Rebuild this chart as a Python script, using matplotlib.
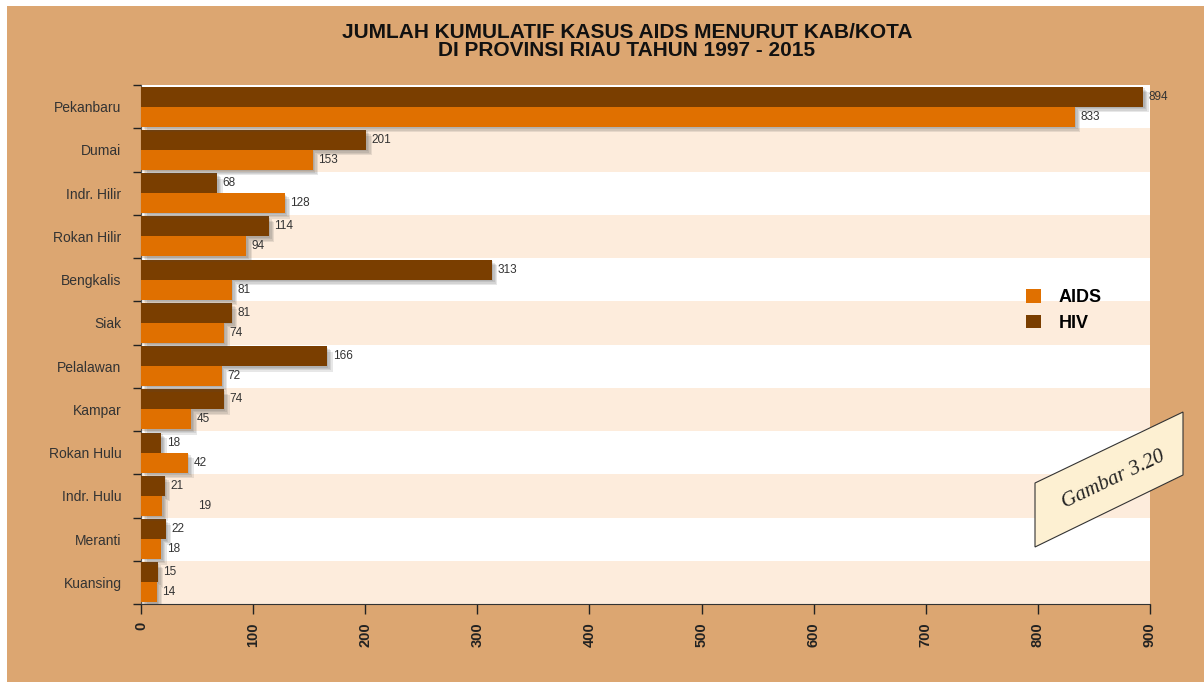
import matplotlib
matplotlib.use("Agg")
import matplotlib.pyplot as plt
import matplotlib.patheffects as pe
from matplotlib.patches import Patch, Polygon, Rectangle
import numpy as np

plt.rcParams['font.family'] = ['Liberation Sans', 'DejaVu Sans']

kabkota = ["Pekanbaru", "Dumai", "Indr. Hilir", "Rokan Hilir", "Bengkalis", "Siak",
           "Pelalawan", "Kampar", "Rokan Hulu", "Indr. Hulu", "Meranti", "Kuansing"]
hiv = [894, 201, 68, 114, 313, 81, 166, 74, 18, 21, 22, 15]
aids = [833, 153, 128, 94, 81, 74, 72, 45, 42, 19, 18, 14]
x_ticks = [0, 100, 200, 300, 400, 500, 600, 700, 800, 900]

TAN = "#DCA671"
PEACH = "#FDECDC"
ORANGE = "#E07000"
BROWN = "#7A3E00"
TEXT = "#333333"

W, H = 1204, 682
fig = plt.figure(figsize=(W / 100, H / 100), dpi=100, facecolor="white")
# tan frame with thin white border top/left
fig.patches.append(Rectangle((7 / W, 0), 1, 1 - 6 / H, transform=fig.transFigure,
                             facecolor=TAN, edgecolor="none", zorder=-10))

ax = fig.add_axes([141 / W, 1 - 604 / H, (1150 - 141) / W, (604 - 85) / H])
ax.set_facecolor("white")

n = len(kabkota)
y = np.arange(n)
for i in range(n):
    if i % 2 == 1:
        ax.axhspan(i - 0.5, i + 0.5, color=PEACH, zorder=0, lw=0)

h = 0.46
# soft drop shadow: a few stacked, faint offsets
shadow = [pe.SimplePatchShadow(offset=(k, -k), shadow_rgbFace=(0.3, 0.3, 0.3), alpha=0.13)
          for k in (4, 3, 2, 1)] + [pe.Normal()]
b1 = ax.barh(y - h / 2, hiv, height=h, color=BROWN, zorder=3)
b2 = ax.barh(y + h / 2, aids, height=h, color=ORANGE, zorder=3)
for b in list(b1) + list(b2):
    b.set_path_effects(shadow)

for i in range(n):
    ax.annotate(str(hiv[i]), (hiv[i], y[i] - h / 2), xytext=(4, 0), textcoords="offset points",
                va="center", ha="left", fontsize=8.5, color=TEXT, zorder=5, annotation_clip=False)
    dx = 26 if kabkota[i] == "Indr. Hulu" else 4
    ax.annotate(str(aids[i]), (aids[i], y[i] + h / 2), xytext=(dx, 0), textcoords="offset points",
                va="center", ha="left", fontsize=8.5, color=TEXT, zorder=5, annotation_clip=False)

ax.set_xlim(0, 900)
ax.set_ylim(n - 0.5, -0.5)
ax.set_xticks(x_ticks)
ax.set_xticklabels([str(t) for t in x_ticks], rotation=90, fontweight="bold", fontsize=10.5, color="#222222")
ax.set_yticks(y)
ax.set_yticklabels(kabkota, fontsize=10, color=TEXT)
ax.set_yticks(np.arange(-0.5, n, 1), minor=True)
ax.tick_params(axis="y", which="major", length=0, pad=14)
ax.tick_params(axis="y", which="minor", length=6, width=1, color="#222222")
ax.tick_params(axis="x", length=7, width=1, color="#222222", pad=6)
for s in ["top", "right"]:
    ax.spines[s].set_visible(False)
ax.spines["left"].set_color("#555555")
ax.spines["bottom"].set_color("#333333")

fig.text(627 / W, 1 - 33 / H, "JUMLAH KUMULATIF KASUS AIDS MENURUT KAB/KOTA",
         ha="center", va="center", fontsize=15, fontweight="bold", color="#111111")
fig.text(627 / W, 1 - 51 / H, "DI PROVINSI RIAU TAHUN 1997 - 2015",
         ha="center", va="center", fontsize=15, fontweight="bold", color="#111111")

handles = [Patch(facecolor=ORANGE, edgecolor="none", label="AIDS"),
           Patch(facecolor=BROWN, edgecolor="none", label="HIV")]
leg = fig.legend(handles=handles, loc="upper left", bbox_to_anchor=(1010 / W, 1 - 273 / H),
                 frameon=False, handlelength=0.8, handleheight=0.8, handletextpad=1.0,
                 labelspacing=0.45, prop={"weight": "bold", "size": 13})

pts = [(1035, 483), (1183, 412), (1183, 475), (1035, 547)]
fig.patches.append(Polygon([(px / W, 1 - py / H) for px, py in pts], closed=True,
                           transform=fig.transFigure, facecolor="#FDF0D2",
                           edgecolor="#333333", lw=0.8, zorder=6))
fig.text(1114 / W, 1 - 480 / H, "Gambar 3.20", rotation=25.6, ha="center", va="center",
         fontsize=15, fontstyle="italic", family=["Liberation Serif", "DejaVu Serif"],
         color="#222222", zorder=7, rotation_mode="anchor")

fig.savefig("out.png", dpi=100, facecolor=fig.get_facecolor())
